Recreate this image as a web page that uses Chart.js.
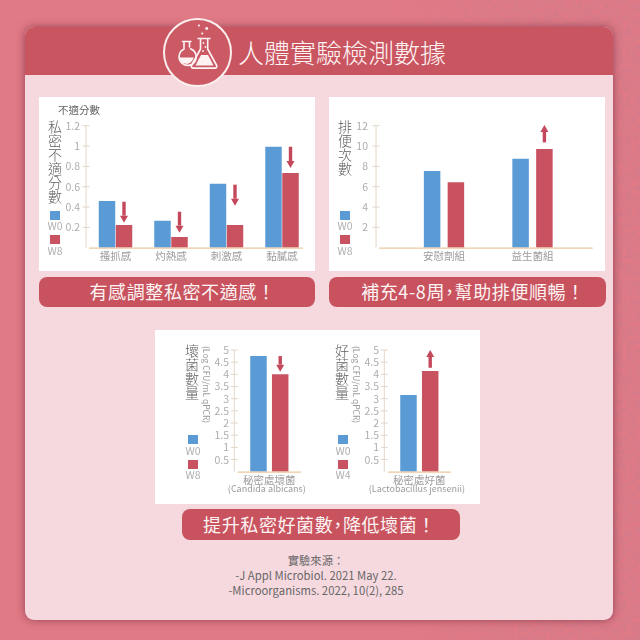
<!DOCTYPE html>
<html lang="zh-Hant">
<head>
<meta charset="utf-8">
<title>人體實驗檢測數據</title>
<script src="https://cdn.jsdelivr.net/npm/chart.js@4"></script>
<style>
  * { box-sizing: border-box; margin: 0; padding: 0; }
  body {
    width: 640px;
    height: 640px;
    position: relative;
    overflow: hidden;
    background: #e07a86;
    font-family: "Noto Sans CJK TC", "Noto Sans", sans-serif;
  }
  .abs { position: absolute; }
  .card {
    left: 25px; top: 27px; width: 588px; height: 593px;
    background: #f6d9df;
    border-radius: 9px;
    overflow: hidden;
    box-shadow: 0 0 9px rgba(90, 20, 40, 0.55);
  }
  .card-head { left: 0; top: 0; width: 100%; height: 48px; background: #c95560; }
  .badge {
    left: 163px; top: 18px; width: 69px; height: 69px;
    border: 2.5px solid #fbeeee;
    border-radius: 50%;
    background: #cc5a65;
  }
  .heading {
    left: 238px; top: 31px;
    color: #fdf3f3;
    font-size: 26px;
    line-height: 42px;
    font-weight: 300;
    white-space: nowrap;
  }
  .panel { background: #fff; }
  .panel canvas { position: absolute; left: 0; top: 0; }
  .caption {
    background: #c8535f;
    border-radius: 8px;
    color: #fdf3f3;
    text-align: center;
    font-size: 18px;
    letter-spacing: 0.6px;
  }
  .caption span { font-feature-settings: "palt"; }
  .side-title {
    writing-mode: vertical-rl;
    color: #5f5f5f;
    font-size: 14px;
    line-height: 15px;
    font-weight: 300;
    white-space: nowrap;
  }
  .unit-title {
    writing-mode: vertical-rl;
    color: #9a9a9a;
    font-size: 8.5px;
    line-height: 10px;
    white-space: nowrap;
  }
  .top-title { color: #666; font-size: 10.5px; line-height: 14px; white-space: nowrap; }
  .swatch { width: 10px; height: 9px; }
  .swatch-label {
    width: 24px;
    color: #b0b0b0;
    font-size: 10.5px;
    line-height: 12px;
    text-align: center;
  }
  .source {
    left: 22px; width: 588px;
    color: #666;
    text-align: center;
    font-size: 11.3px;
    line-height: 15px;
  }
</style>
</head>
<body>
<svg class="abs" style="left:0;top:0" width="640" height="640">
  <defs>
    <filter id="leather" x="0" y="0" width="100%" height="100%">
      <feTurbulence type="fractalNoise" baseFrequency="0.22" numOctaves="3" seed="4"/>
      <feColorMatrix values="0 0 0 0 0.55  0 0 0 0 0.2  0 0 0 0 0.28  0.9 0 0 0 -0.28"/>
    </filter>
    <linearGradient id="fadeRight" x1="0" x2="1" y1="0" y2="0">
      <stop offset="0.62" stop-color="#fff" stop-opacity="0"/>
      <stop offset="0.85" stop-color="#fff" stop-opacity="1"/>
    </linearGradient>
    <mask id="rightSide"><rect width="640" height="640" fill="url(#fadeRight)"/></mask>
  </defs>
  <g mask="url(#rightSide)"><rect width="640" height="640" filter="url(#leather)"/></g>
</svg>

<div class="abs card"><div class="abs card-head"></div></div>
<div class="abs badge"></div>

<!-- flask icon -->
<svg class="abs" style="left:0;top:0" width="640" height="640" fill="none" stroke="#fdf3f3" stroke-width="1.6" stroke-linejoin="round" stroke-linecap="round">
  <circle cx="199" cy="25.5" r="1.1" fill="#fdf3f3" stroke="none"/>
  <circle cx="206.7" cy="28.5" r="1.4" fill="#fdf3f3" stroke="none"/>
  <circle cx="202.3" cy="33.5" r="1.1" fill="#fdf3f3" stroke="none"/>
  <path d="M182.5 41.5h8.5M184 41.5v7.5a8.6 8.6 0 1 0 6.6 -0.3M189.5 41.5v5.5"/>
  <path d="M179.5 57.5a7 7 0 0 0 12.6 3.5l1.8 -3.4z" fill="#fdf3f3" stroke="none"/>
  <path d="M198 38.5h12M200.5 38.5v10.5l-9 16.5a1.8 1.8 0 0 0 1.6 2.6h22a1.8 1.8 0 0 0 1.6 -2.6l-9 -16.5v-10.5"/>
  <path d="M195.5 65.5l5.5 -10.5h7l5.5 10.5z" fill="#fdf3f3" stroke="none"/>
  <circle cx="203.5" cy="43" r="0.9" fill="#fdf3f3" stroke="none"/>
  <circle cx="205.5" cy="47" r="0.9" fill="#fdf3f3" stroke="none"/>
  <circle cx="203" cy="51" r="0.9" fill="#fdf3f3" stroke="none"/>
</svg>
<div class="abs heading">人體實驗檢測數據</div>

<div class="abs caption" style="left:39px;top:277px;width:276px;height:30px;line-height:29px;padding-left:11px">有感調整私密不適感！</div>
<div class="abs caption" style="left:329px;top:277px;width:277px;height:30px;line-height:29px;padding-left:11px">補充4-8周<span>，</span>幫助排便順暢！</div>
<div class="abs caption" style="left:182px;top:509px;width:278px;height:31px;line-height:30px;padding-right:3px">提升私密好菌數<span>，</span>降低壞菌！</div>

<div class="abs source" style="top:553px">實驗來源：<br>-J Appl Microbiol. 2021 May 22.<br>-Microorganisms. 2022, 10(2), 285</div>

<script>
// bar data
const scoreCategories = ["搔抓感", "灼熱感", "刺激感", "黏膩感"];
const scoreW0 = [0.46, 0.266, 0.63, 0.993];
const scoreW8 = [0.223, 0.105, 0.223, 0.735];
const scoreTicks = [0.2, 0.4, 0.6, 0.8, 1, 1.2];
const scoreArrowTail = [0.452, 0.354, 0.62, 0.993];
const scoreArrowTip = [0.246, 0.148, 0.413, 0.784];

const bowelCategories = ["安慰劑組", "益生菌組"];
const bowelW0 = [7.54, 8.75];
const bowelW8 = [6.43, 9.7];
const bowelTicks = [2, 4, 6, 8, 10, 12];
const bowelArrowTail = [null, 10.36];
const bowelArrowTip = [null, 12.07];

const logTicks = [0.5, 1, 1.5, 2, 2.5, 3, 3.5, 4, 4.5, 5];

const badCategories = ["秘密處壞菌"];
const badW0 = [4.75];
const badW8 = [4.0];
const badArrowTail = [4.75];
const badArrowTip = [4.11];

const goodCategories = ["秘密處好菌"];
const goodW0 = [3.15];
const goodW4 = [4.14];
const goodArrowTail = [4.27];
const goodArrowTip = [5.0];

const BLUE = "#5b9bd5";
const RED = "#c8525f";
const ARROW = "#c4485c";
const FONT = '"Noto Sans CJK TC", "Noto Sans", sans-serif';

// Axis lines, crossing tick marks and the up/down arrows over the second series
const axisFrame = {
  id: "axisFrame",
  afterDatasetsDraw(chart, args, opts) {
    const { ctx, scales } = chart;
    const yScale = scales.y;
    const baseY = yScale.getPixelForValue(0);
    ctx.save();
    ctx.lineWidth = 1;
    ctx.strokeStyle = "#e3d6c8";
    ctx.beginPath();
    ctx.moveTo(opts.axisX, yScale.getPixelForValue(yScale.max));
    ctx.lineTo(opts.axisX, baseY);
    yScale.ticks.forEach((tick) => {
      const y = yScale.getPixelForValue(tick.value);
      ctx.moveTo(opts.axisX - 3.5, y);
      ctx.lineTo(opts.axisX + 3.5, y);
    });
    ctx.stroke();

    ctx.lineWidth = 1.2;
    ctx.strokeStyle = "#e9c99f";
    ctx.beginPath();
    ctx.moveTo(opts.baseFrom, baseY + 0.5);
    ctx.lineTo(opts.baseTo, baseY + 0.5);
    ctx.stroke();

    ctx.fillStyle = ARROW;
    chart.getDatasetMeta(1).data.forEach((bar, i) => {
      if (opts.arrowTail[i] === null) return;
      const tail = yScale.getPixelForValue(opts.arrowTail[i]);
      const tip = yScale.getPixelForValue(opts.arrowTip[i]);
      const dir = tip > tail ? 1 : -1;
      const neck = tip - dir * 7;
      ctx.fillRect(bar.x - 1.7, Math.min(tail, neck), 3.4, Math.abs(neck - tail));
      ctx.beginPath();
      ctx.moveTo(bar.x, tip);
      ctx.lineTo(bar.x - 4, neck);
      ctx.lineTo(bar.x + 4, neck);
      ctx.closePath();
      ctx.fill();
    });

    // latin species name under the category label
    if (opts.species) {
      ctx.fillStyle = "#9c9c9c";
      ctx.font = "9px " + FONT;
      ctx.textAlign = "center";
      ctx.textBaseline = "middle";
      ctx.fillText(opts.species, scales.x.getPixelForTick(0) - 2.5, baseY + 17);
    }
    ctx.restore();
  },
};

// page position of each block; area* are the plot edges in page pixels
function addPanel(cfg) {
  const panel = document.createElement("div");
  panel.className = "abs panel";
  panel.style.cssText = `left:${cfg.x}px;top:${cfg.y}px;width:${cfg.w}px;height:${cfg.h}px`;
  const canvas = document.createElement("canvas");
  canvas.width = cfg.w;
  canvas.height = cfg.h;
  canvas.style.width = cfg.w + "px";
  canvas.style.height = cfg.h + "px";
  panel.appendChild(canvas);
  document.body.appendChild(panel);

  new Chart(canvas, {
    type: "bar",
    data: {
      labels: cfg.labels,
      datasets: [
        { label: cfg.seriesNames[0], data: cfg.first, backgroundColor: BLUE },
        { label: cfg.seriesNames[1], data: cfg.second, backgroundColor: RED },
      ],
    },
    plugins: [axisFrame],
    options: {
      responsive: false,
      animation: false,
      events: [],
      layout: {
        autoPadding: false,
        padding: {
          top: cfg.areaTop - cfg.y,
          right: cfg.x + cfg.w - cfg.areaRight,
          left: 0,
          bottom: 0,
        },
      },
      categoryPercentage: cfg.categoryPercentage,
      barPercentage: cfg.barPercentage,
      plugins: {
        legend: { display: false },
        tooltip: { enabled: false },
        axisFrame: {
          axisX: cfg.axisX - cfg.x,
          baseFrom: cfg.baseFrom - cfg.x,
          baseTo: cfg.baseTo - cfg.x,
          arrowTail: cfg.arrowTail,
          arrowTip: cfg.arrowTip,
          species: cfg.species,
        },
      },
      scales: {
        x: {
          border: { display: false },
          grid: { display: false, drawTicks: false },
          afterFit: (scale) => {
            scale.height = cfg.y + cfg.h - cfg.areaBottom;
            scale.paddingLeft = 0;
            scale.paddingRight = 0;
          },
          ticks: {
            autoSkip: false,
            maxRotation: 0,
            color: "#9c9c9c",
            padding: 2,
            font: { family: FONT, size: 10.5 },
          },
        },
        y: {
          min: 0,
          max: cfg.max,
          border: { display: false },
          grid: { display: false, drawTicks: false },
          afterBuildTicks: (scale) => {
            scale.ticks = cfg.ticks.map((value) => ({ value }));
          },
          afterFit: (scale) => {
            scale.width = cfg.areaLeft - cfg.x;
            // big label padding must not eat into the plot height
            scale.paddingTop = 0;
            scale.paddingBottom = 0;
          },
          ticks: {
            autoSkip: false,
            color: "#adadad",
            padding: cfg.areaLeft - cfg.labelRight,
            callback: (value) => String(value),
            font: { family: FONT, size: 10.5 },
          },
        },
      },
    },
  });

  // side titles and the hand-built legend column
  const addText = (className, css, text) => {
    const el = document.createElement("div");
    el.className = "abs " + className;
    el.style.cssText = css;
    el.textContent = text;
    document.body.appendChild(el);
  };
  addText("side-title", `left:${cfg.titleX}px;top:${cfg.titleY}px`, cfg.sideTitle);
  if (cfg.unitX) {
    addText("unit-title", `left:${cfg.unitX}px;top:${cfg.titleY + 2}px`, "(Log CFU/mL  qPCR)");
  }
  if (cfg.topTitle) {
    addText("top-title", `left:58px;top:103px`, cfg.topTitle);
  }
  cfg.seriesNames.forEach((name, i) => {
    const top = cfg.legendY + i * 24.5;
    addText("swatch", `left:${cfg.legendX}px;top:${top}px;background:${i ? RED : BLUE}`, "");
    addText("swatch-label", `left:${cfg.legendX - 7}px;top:${top + 9.5}px`, name);
  });
}

addPanel({
  x: 39, y: 97, w: 276, h: 174,
  areaLeft: 87.75, areaRight: 309.75, areaTop: 125.7, areaBottom: 247.7,
  axisX: 86, baseFrom: 89, baseTo: 303, labelRight: 80,
  labels: scoreCategories, first: scoreW0, second: scoreW8,
  seriesNames: ["W0", "W8"], max: 1.2, ticks: scoreTicks,
  categoryPercentage: 0.6126, barPercentage: 0.97,
  arrowTail: scoreArrowTail, arrowTip: scoreArrowTip,
  sideTitle: "私密不適分數", titleX: 47, titleY: 120, topTitle: "不適分數",
  legendX: 50, legendY: 210.5,
});

addPanel({
  x: 329, y: 97, w: 276, h: 174,
  areaLeft: 399.75, areaRight: 576.75, areaTop: 125.7, areaBottom: 247.7,
  axisX: 376, baseFrom: 379, baseTo: 592.7, labelRight: 368,
  labels: bowelCategories, first: bowelW0, second: bowelW8,
  seriesNames: ["W0", "W8"], max: 12, ticks: bowelTicks,
  categoryPercentage: 0.538, barPercentage: 0.693,
  arrowTail: bowelArrowTail, arrowTip: bowelArrowTip,
  sideTitle: "排便次數", titleX: 337, titleY: 120,
  legendX: 340, legendY: 210.5,
});

// the two lower charts share one white block
const lowerBlock = document.createElement("div");
lowerBlock.className = "abs panel";
lowerBlock.style.cssText = "left:155px;top:330px;width:325px;height:174px";
document.body.appendChild(lowerBlock);

addPanel({
  x: 155, y: 330, w: 160, h: 174,
  areaLeft: 237.7, areaRight: 301, areaTop: 350, areaBottom: 471.7,
  axisX: 234.3, baseFrom: 237.7, baseTo: 301, labelRight: 229,
  labels: badCategories, first: badW0, second: badW8,
  seriesNames: ["W0", "W8"], max: 5, ticks: logTicks,
  categoryPercentage: 0.686, barPercentage: 0.76,
  arrowTail: badArrowTail, arrowTip: badArrowTip,
  species: "(Candida albicans)",
  sideTitle: "壞菌數量", titleX: 184, titleY: 344, unitX: 202,
  legendX: 188, legendY: 435,
});

addPanel({
  x: 315, y: 330, w: 165, h: 174,
  areaLeft: 387.7, areaRight: 451, areaTop: 350, areaBottom: 471.7,
  axisX: 384.3, baseFrom: 387.7, baseTo: 451, labelRight: 379,
  labels: goodCategories, first: goodW0, second: goodW4,
  seriesNames: ["W0", "W4"], max: 5, ticks: logTicks,
  categoryPercentage: 0.686, barPercentage: 0.76,
  arrowTail: goodArrowTail, arrowTip: goodArrowTip,
  species: "(Lactobacillus jensenii)",
  sideTitle: "好菌數量", titleX: 334, titleY: 344, unitX: 352,
  legendX: 338, legendY: 435,
});
</script>
</body>
</html>
